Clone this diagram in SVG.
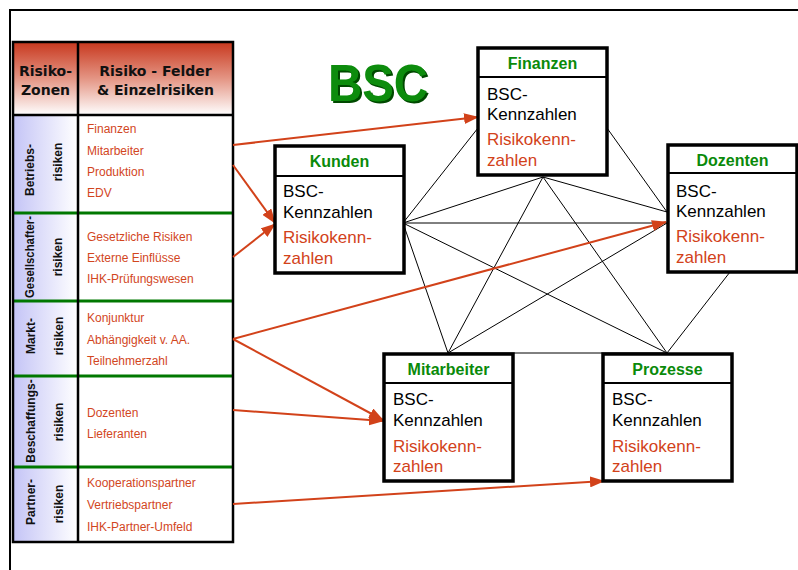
<svg xmlns="http://www.w3.org/2000/svg" width="798" height="570" viewBox="0 0 798 570">
<defs>
  <linearGradient id="hdr" x1="0" y1="0" x2="0" y2="1">
    <stop offset="0" stop-color="#c8381e"/>
    <stop offset="0.5" stop-color="#e49584"/>
    <stop offset="1" stop-color="#ffffff"/>
  </linearGradient>
  <linearGradient id="zone" x1="0" y1="0" x2="1" y2="0">
    <stop offset="0" stop-color="#c4c4f6"/>
    <stop offset="1" stop-color="#ffffff"/>
  </linearGradient>
  <filter id="shadow" x="-10%" y="-10%" width="130%" height="130%">
    <feOffset in="SourceAlpha" dx="2" dy="2" result="o"/>
    <feFlood flood-color="#004a00"/>
    <feComposite in2="o" operator="in" result="s"/>
    <feMerge><feMergeNode in="s"/><feMergeNode in="SourceGraphic"/></feMerge>
  </filter>
  <marker id="ah" markerUnits="userSpaceOnUse" markerWidth="15" markerHeight="11" refX="14" refY="5.5" orient="auto">
    <path d="M0,0 L15,5.5 L0,11 z" fill="#d2421a"/>
  </marker>
  <style>
    .frame{stroke:#000;stroke-width:2;fill:none}
    .tb{fill:none;stroke:#000;stroke-width:2.5}
    .sep{stroke:#007800;stroke-width:3}
    .hd{font-family:"DejaVu Sans",sans-serif;font-weight:bold;font-size:14px;fill:#111;text-anchor:middle}
    .zn{font-family:"Liberation Sans",Arial,sans-serif;font-weight:bold;font-size:12px;fill:#111;text-anchor:middle}
    .rk{font-family:"Liberation Sans",Arial,sans-serif;font-size:12px;fill:#d2461e}
    .box{fill:#fff;stroke:#000;stroke-width:3.5}
    .div{stroke:#000;stroke-width:2}
    .ti{font-family:"Liberation Sans",Arial,sans-serif;font-weight:bold;font-size:16px;fill:#0a8a0a;text-anchor:middle}
    .bk{font-family:"Liberation Sans",Arial,sans-serif;font-size:17px;fill:#000}
    .rd{font-family:"Liberation Sans",Arial,sans-serif;font-size:17px;fill:#d2421a}
    .ln{stroke:#000;stroke-width:1;fill:none}
    .ar{stroke:#d2421a;stroke-width:2;fill:none;marker-end:url(#ah)}
  </style>
</defs>
<rect width="798" height="570" fill="#fff"/>
<path class="frame" d="M10,570 V10 H798"/>

<g id="table">
  <rect x="13" y="42" width="220" height="73" fill="url(#hdr)"/>
  <rect x="13" y="115" width="65" height="427" fill="url(#zone)"/>
  <line class="sep" x1="13" y1="213" x2="233" y2="213"/>
  <line class="sep" x1="13" y1="301" x2="233" y2="301"/>
  <line class="sep" x1="13" y1="376" x2="233" y2="376"/>
  <line class="sep" x1="13" y1="467" x2="233" y2="467"/>
  <line x1="13" y1="115" x2="233" y2="115" stroke="#000" stroke-width="2.5"/>
  <line x1="78" y1="42" x2="78" y2="542" stroke="#000" stroke-width="2.5"/>
  <rect class="tb" x="13" y="42" width="220" height="500"/>
  <text class="hd" x="45.5" y="76">Risiko-</text>
  <text class="hd" x="45.5" y="95">Zonen</text>
  <text class="hd" x="155.5" y="76">Risiko - Felder</text>
  <text class="hd" x="155.5" y="95">&amp; Einzelrisiken</text>

  <text class="zn" transform="translate(34,170) rotate(-90)">Betriebs-</text>
  <text class="zn" transform="translate(62,162) rotate(-90)">risiken</text>
  <text class="zn" transform="translate(34,257) rotate(-90)" textLength="82" lengthAdjust="spacingAndGlyphs">Gesellschafter-</text>
  <text class="zn" transform="translate(62,257) rotate(-90)">risiken</text>
  <text class="zn" transform="translate(35,336) rotate(-90)">Markt-</text>
  <text class="zn" transform="translate(63,336) rotate(-90)">risiken</text>
  <text class="zn" transform="translate(35,421) rotate(-90)">Beschaffungs-</text>
  <text class="zn" transform="translate(63,422) rotate(-90)">risiken</text>
  <text class="zn" transform="translate(35,502) rotate(-90)">Partner-</text>
  <text class="zn" transform="translate(63,504) rotate(-90)">risiken</text>

  <text class="rk" x="87" y="133">Finanzen</text>
  <text class="rk" x="87" y="155">Mitarbeiter</text>
  <text class="rk" x="87" y="176">Produktion</text>
  <text class="rk" x="87" y="197">EDV</text>
  <text class="rk" x="87" y="241">Gesetzliche Risiken</text>
  <text class="rk" x="87" y="262">Externe Einflüsse</text>
  <text class="rk" x="87" y="283">IHK-Prüfungswesen</text>
  <text class="rk" x="87" y="322">Konjunktur</text>
  <text class="rk" x="87" y="344">Abhängigkeit v. AA.</text>
  <text class="rk" x="87" y="365">Teilnehmerzahl</text>
  <text class="rk" x="87" y="417">Dozenten</text>
  <text class="rk" x="87" y="438">Lieferanten</text>
  <text class="rk" x="87" y="487">Kooperationspartner</text>
  <text class="rk" x="87" y="509">Vertriebspartner</text>
  <text class="rk" x="87" y="531">IHK-Partner-Umfeld</text>
</g>

<g id="bsc-title">
  <text x="328" y="101" font-family="Liberation Sans, Arial, sans-serif" font-weight="bold" font-size="52" fill="#0c8c0c" textLength="100" lengthAdjust="spacingAndGlyphs" filter="url(#shadow)">BSC</text>
</g>

<g id="connectors">
  <line class="ln" x1="403" y1="223" x2="478" y2="128"/>
  <line class="ln" x1="403" y1="223" x2="543" y2="177"/>
  <line class="ln" x1="403" y1="223" x2="667" y2="223"/>
  <line class="ln" x1="403" y1="223" x2="448" y2="353"/>
  <line class="ln" x1="403" y1="223" x2="667" y2="353"/>
  <line class="ln" x1="543" y1="177" x2="667" y2="212"/>
  <line class="ln" x1="607" y1="128" x2="667" y2="212"/>
  <line class="ln" x1="543" y1="177" x2="448" y2="353"/>
  <line class="ln" x1="543" y1="177" x2="667" y2="353"/>
  <line class="ln" x1="448" y1="353" x2="667" y2="223"/>
  <line class="ln" x1="448" y1="353" x2="667" y2="353"/>
  <line class="ln" x1="730" y1="272" x2="667" y2="353"/>
  <line class="ar" x1="233" y1="145" x2="478" y2="117"/>
  <line class="ar" x1="233" y1="165" x2="275" y2="223"/>
  <line class="ar" x1="233" y1="257" x2="275" y2="224"/>
  <line class="ar" x1="233" y1="339" x2="666" y2="222"/>
  <line class="ar" x1="233" y1="339" x2="383" y2="420"/>
  <line class="ar" x1="233" y1="410" x2="383" y2="421"/>
  <line class="ar" x1="233" y1="504" x2="604" y2="481"/>
</g>

<g id="finanzen">
  <rect class="box" x="478" y="48" width="129" height="127"/>
  <line class="div" x1="478" y1="77" x2="607" y2="77"/>
  <text class="ti" x="542.5" y="69">Finanzen</text>
  <text class="bk" x="487" y="100">BSC-</text>
  <text class="bk" x="487" y="120">Kennzahlen</text>
  <text class="rd" x="487" y="145">Risikokenn-</text>
  <text class="rd" x="487" y="166">zahlen</text>
</g>

<g id="kunden">
  <rect class="box" x="275" y="146" width="129" height="127"/>
  <line class="div" x1="275" y1="176" x2="404" y2="176"/>
  <text class="ti" x="339.5" y="167">Kunden</text>
  <text class="bk" x="283" y="197">BSC-</text>
  <text class="bk" x="283" y="218">Kennzahlen</text>
  <text class="rd" x="283" y="243">Risikokenn-</text>
  <text class="rd" x="283" y="264">zahlen</text>
</g>

<g id="dozenten">
  <rect class="box" x="668" y="145" width="129" height="127"/>
  <line class="div" x1="668" y1="173" x2="797" y2="173"/>
  <text class="ti" x="732.5" y="166">Dozenten</text>
  <text class="bk" x="676" y="197">BSC-</text>
  <text class="bk" x="676" y="217">Kennzahlen</text>
  <text class="rd" x="676" y="242">Risikokenn-</text>
  <text class="rd" x="676" y="263">zahlen</text>
</g>

<g id="mitarbeiter">
  <rect class="box" x="384" y="354" width="129" height="127"/>
  <line class="div" x1="384" y1="383" x2="513" y2="383"/>
  <text class="ti" x="448.5" y="375">Mitarbeiter</text>
  <text class="bk" x="393" y="405">BSC-</text>
  <text class="bk" x="393" y="426">Kennzahlen</text>
  <text class="rd" x="393" y="452">Risikokenn-</text>
  <text class="rd" x="393" y="472">zahlen</text>
</g>

<g id="prozesse">
  <rect class="box" x="603" y="354" width="129" height="127"/>
  <line class="div" x1="603" y1="383" x2="732" y2="383"/>
  <text class="ti" x="667.5" y="375">Prozesse</text>
  <text class="bk" x="612" y="405">BSC-</text>
  <text class="bk" x="612" y="426">Kennzahlen</text>
  <text class="rd" x="612" y="452">Risikokenn-</text>
  <text class="rd" x="612" y="472">zahlen</text>
</g>
</svg>
